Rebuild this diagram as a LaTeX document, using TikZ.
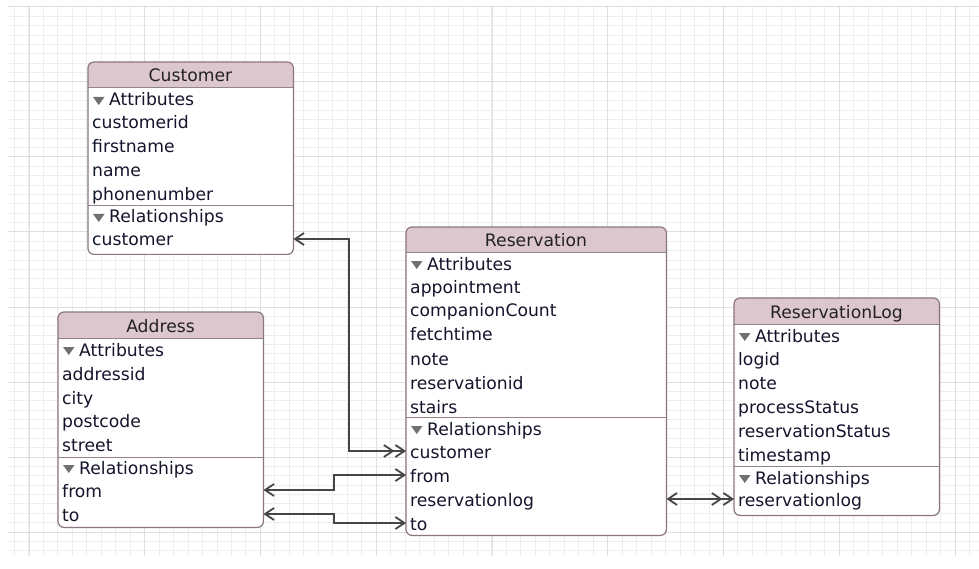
\documentclass[tikz,border=0pt]{standalone}
\usepackage{fontspec}
\setmainfont{DejaVu Sans}
\usetikzlibrary{arrows.meta,calc}

\definecolor{hdrfill}{RGB}{221,199,207}
\definecolor{boxline}{RGB}{138,118,126}
\definecolor{sepline}{RGB}{148,130,137}
\definecolor{itemtext}{RGB}{20,20,44}
\definecolor{titletext}{RGB}{34,34,34}
\definecolor{connline}{RGB}{70,70,70}
\definecolor{discgray}{RGB}{112,112,112}
\definecolor{gridminor}{RGB}{238,238,238}
\definecolor{gridmajor}{RGB}{222,222,222}

\tikzset{
  x=1pt, y=1pt,
  entity/.style={inner sep=0pt, anchor=north west},
  title/.style={font=\fontsize{17.2}{20}\selectfont, text=titletext,
    inner sep=0pt, text height=14pt, text depth=0pt},
  row/.style={font=\fontsize{17.2}{20}\selectfont, text=itemtext,
    inner sep=0pt, anchor=west, text height=14pt, text depth=0pt},
  barb/.tip={Straight Barb[length=9pt,width=12pt]},
  dbarb/.tip={Straight Barb[length=9pt,width=12pt] Straight Barb[length=9pt,width=12pt]},
  conn/.style={draw=connline, line width=1.8pt},
}

% #1 name, #2 left, #3 top, #4 right, #5 bottom, #6 section separator, #7 title
\newcommand\drawentity[7]{%
  \node[entity, minimum width={#4-#2}, minimum height={#5-#3}] (#1) at (#2,-#3) {};
  \begin{scope}
    \clip[rounded corners=6pt] (#2,-#3) rectangle (#4,-#5);
    \fill[white] (#2,-#3) rectangle (#4,-#5);
    \fill[hdrfill] (#2,-#3) rectangle (#4,{-#3-26});
  \end{scope}
  \draw[sepline, line width=1pt] (#2,{-#3-26}) -- (#4,{-#3-26});
  \draw[sepline, line width=1pt] (#2,-#6) -- (#4,-#6);
  \draw[boxline, line width=1.2pt, rounded corners=6pt] (#1.north west) rectangle (#1.south east);
  \node[title] (#1-title) at ({(#2+#4)/2},{-#3-13}) {#7};
}

% grey disclosure triangle in front of a section heading
\newcommand\disclosure[1]{%
  \fill[discgray] ($(#1.west)+(-16,2)$) -- ++(11.5,0) -- ++(-5.75,-8) -- cycle;
}

\begin{document}
\begin{tikzpicture}
  \useasboundingbox (0,0) rectangle (979,-569);
  \fill[white] (0,0) rectangle (979,-569);

  % background grid
  \begin{scope}
    \clip (8,-7) rectangle (979,-556);
    \foreach \k in {0,...,68}
      \draw[gridminor, line width=1pt] ({14.47*\k},-7) -- ({14.47*\k},-556);
    \foreach \k in {0,...,59}
      \draw[gridminor, line width=1pt] (8,{-7-9.375*\k}) -- (979,{-7-9.375*\k});
    \foreach \k in {0,...,8}
      \draw[gridmajor, line width=1pt] ({29+115.76*\k},-7) -- ({29+115.76*\k},-556);
    \foreach \k in {0,...,7}
      \draw[gridmajor, line width=1pt] (8,{-7-75*\k}) -- (979,{-7-75*\k});
  \end{scope}

  % Customer
  \drawentity{cu}{88}{62}{293}{254}{206}{Customer}
  \node[row] (cu-attr) at (109,-99) {Attributes}; \disclosure{cu-attr}
  \node[row] (cu-a1) at (92,-122) {customerid};
  \node[row] (cu-a2) at (92,-146) {firstname};
  \node[row] (cu-a3) at (92,-170) {name};
  \node[row] (cu-a4) at (92,-194) {phonenumber};
  \node[row] (cu-rel) at (109,-216) {Relationships}; \disclosure{cu-rel}
  \node[row] (cu-r1) at (92,-239) {customer};

  % Address
  \drawentity{ad}{58}{312}{263}{527}{457}{Address}
  \node[row] (ad-attr) at (79,-349) {Attributes}; \disclosure{ad-attr}
  \node[row] (ad-a1) at (62,-373) {addressid};
  \node[row] (ad-a2) at (62,-397) {city};
  \node[row] (ad-a3) at (62,-420) {postcode};
  \node[row] (ad-a4) at (62,-444) {street};
  \node[row] (ad-rel) at (79,-467) {Relationships}; \disclosure{ad-rel}
  \node[row] (ad-r1) at (62,-490) {from};
  \node[row] (ad-r2) at (62,-514) {to};

  % Reservation
  \drawentity{rs}{406}{227}{666}{535}{417}{Reservation}
  \node[row] (rs-attr) at (427,-263) {Attributes}; \disclosure{rs-attr}
  \node[row] (rs-a1) at (410,-286) {appointment};
  \node[row] (rs-a2) at (410,-309) {companionCount};
  \node[row] (rs-a3) at (410,-333) {fetchtime};
  \node[row] (rs-a4) at (410,-358) {note};
  \node[row] (rs-a5) at (410,-382) {reservationid};
  \node[row] (rs-a6) at (410,-406) {stairs};
  \node[row] (rs-rel) at (427,-428) {Relationships}; \disclosure{rs-rel}
  \node[row] (rs-r1) at (410,-451) {customer};
  \node[row] (rs-r2) at (410,-475) {from};
  \node[row] (rs-r3) at (410,-499) {reservationlog};
  \node[row] (rs-r4) at (410,-523) {to};

  % ReservationLog
  \drawentity{lg}{734}{298}{939}{515}{466}{ReservationLog}
  \node[row] (lg-attr) at (755,-335) {Attributes}; \disclosure{lg-attr}
  \node[row] (lg-a1) at (738,-358) {logid};
  \node[row] (lg-a2) at (738,-382) {note};
  \node[row] (lg-a3) at (738,-406) {processStatus};
  \node[row] (lg-a4) at (738,-430) {reservationStatus};
  \node[row] (lg-a5) at (738,-454) {timestamp};
  \node[row] (lg-rel) at (755,-477) {Relationships}; \disclosure{lg-rel}
  \node[row] (lg-r1) at (738,-499) {reservationlog};

  % relationship connectors
  \coordinate (bendA) at (349,0);
  \coordinate (bendB) at (334,0);
  \draw[conn, {barb}-{dbarb}] (cu.east |- cu-r1) -| (bendA |- rs-r1) -- (rs.west |- rs-r1);
  \draw[conn, {barb}-{barb}] (ad.east |- ad-r1) -| (bendB |- rs-r2) -- (rs.west |- rs-r2);
  \draw[conn, {barb}-{barb}] (ad.east |- ad-r2) -| (bendB |- rs-r4) -- (rs.west |- rs-r4);
  \draw[conn, {barb}-{dbarb}] (rs.east |- rs-r3) -- (lg.west |- lg-r1);
\end{tikzpicture}
\end{document}
